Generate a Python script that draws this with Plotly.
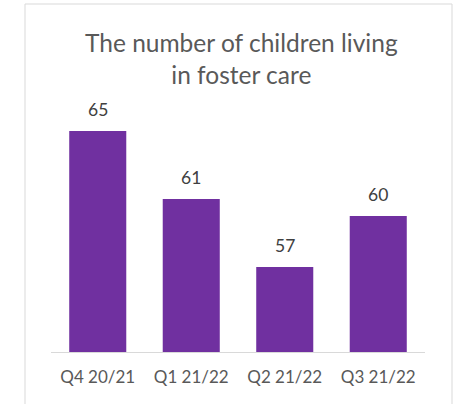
import plotly.graph_objects as go

# Children in foster care by quarter
quarters = ["Q4 20/21", "Q1 21/22", "Q2 21/22", "Q3 21/22"]
children = [65, 61, 57, 60]

bar_color = "#7030A0"
text_gray = "#595959"
label_gray = "#404040"
frame_gray = "#D9D9D9"
font_family = "Lato, Carlito, Calibri, sans-serif"

fig = go.Figure(
    go.Bar(
        x=quarters,
        y=children,
        marker=dict(color=bar_color, line=dict(width=0)),
        width=0.61,
        hoverinfo="x+y",
    )
)

# Value labels above each bar
for q, v in zip(quarters, children):
    fig.add_annotation(
        x=q, y=v, text=str(v), showarrow=False,
        yanchor="middle", yshift=22,
        font=dict(family=font_family, size=17.5, color=label_gray),
    )

# Chart title
fig.add_annotation(
    x=0.51, y=(352 - 58) / 255, xref="paper", yref="paper",
    text="The number of children living<br>in foster care",
    showarrow=False, xanchor="center", yanchor="middle", align="center",
    font=dict(family=font_family, size=24.5, color=text_gray),
)

# Outer chart frame
fig.add_shape(
    type="rect", xref="paper", yref="paper",
    x0=(25 - 51) / 374, x1=(452 - 51) / 374,
    y0=(352 - 420) / 255, y1=(352 - 4) / 255,
    line=dict(color=frame_gray, width=1), fillcolor="rgba(0,0,0,0)",
    layer="below",
)

fig.update_layout(
    width=459, height=404,
    margin=dict(l=51, r=34, t=97, b=52),
    paper_bgcolor="white", plot_bgcolor="white",
    showlegend=False,
    bargap=0.39,
    xaxis=dict(
        showline=True, linecolor=frame_gray, linewidth=1,
        showgrid=False, zeroline=False,
        ticks="outside", ticklen=10, tickcolor="rgba(0,0,0,0)",
        tickfont=dict(family=font_family, size=17, color=text_gray),
        fixedrange=True,
    ),
    yaxis=dict(
        range=[52, 67], visible=False, showgrid=False, zeroline=False,
        fixedrange=True,
    ),
)

fig.write_html("out.html")
